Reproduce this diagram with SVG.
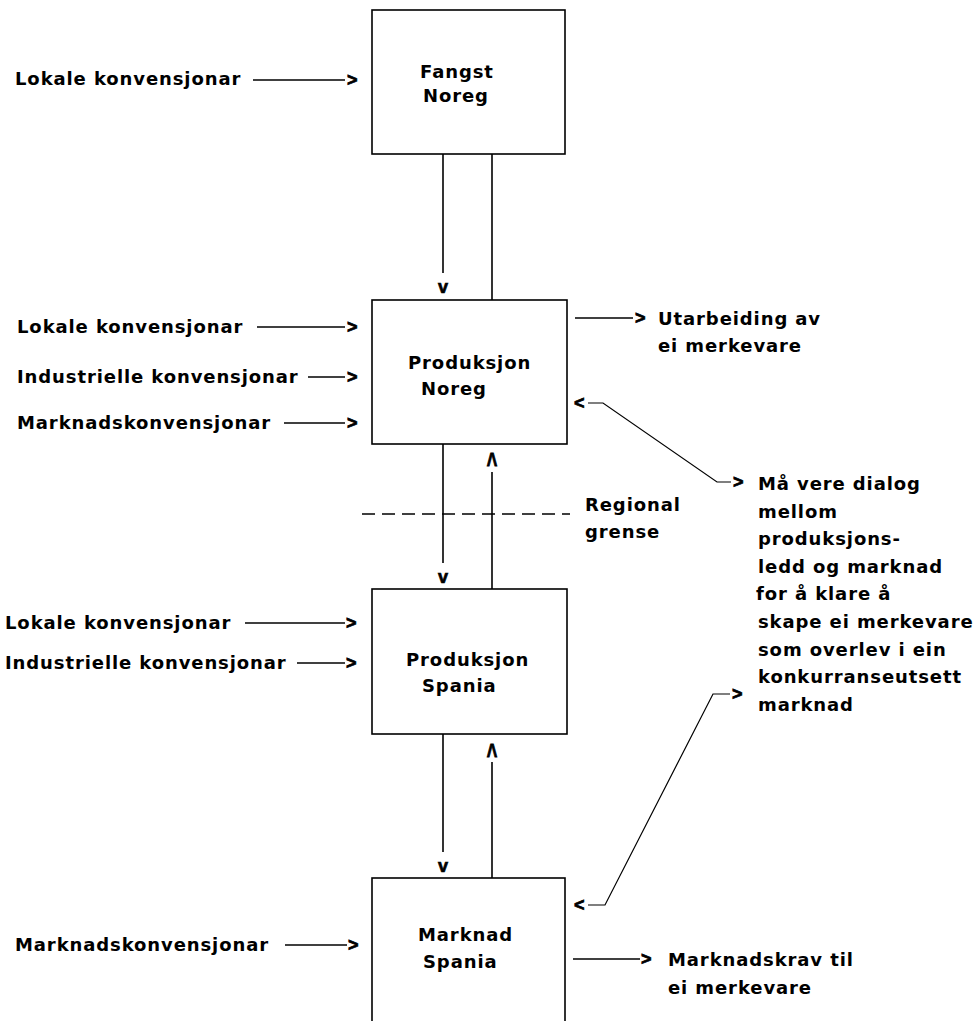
<svg xmlns="http://www.w3.org/2000/svg" width="980" height="1021" viewBox="0 0 980 1021">
<style>
text{font-family:"DejaVu Sans","Liberation Sans",sans-serif;font-weight:bold;font-size:18px;letter-spacing:0.9px;fill:#000}
text.ah{font-family:"Liberation Sans",Arial,sans-serif;letter-spacing:0;stroke:#000;stroke-width:0.7}
.box{fill:#fff;stroke:#000;stroke-width:1.6}
.ln{fill:none;stroke:#000;stroke-width:1.6}
.thin{fill:none;stroke:#000;stroke-width:1.2}
.dash{fill:none;stroke:#000;stroke-width:1.5;stroke-dasharray:13 7}
.m{text-anchor:middle}
</style>
<rect width="980" height="1021" fill="#fff"/>
<g id="connectors">
  <line class="ln" x1="443" y1="154" x2="443" y2="273"/>
  <line class="ln" x1="492" y1="154" x2="492" y2="300"/>
  <text class="ah m" x="443" y="293">v</text>
  <line class="ln" x1="443" y1="444" x2="443" y2="563"/>
  <text class="ah m" x="443" y="583">v</text>
  <line class="ln" x1="492" y1="472" x2="492" y2="589"/>
  <text class="ah m" transform="translate(492,473) scale(1,1.6)">^</text>
  <line class="ln" x1="443" y1="734" x2="443" y2="852"/>
  <text class="ah m" x="443" y="872">v</text>
  <line class="ln" x1="492" y1="762" x2="492" y2="878"/>
  <text class="ah m" transform="translate(492,764) scale(1,1.6)">^</text>
  <line class="dash" x1="362" y1="514" x2="570" y2="514"/>
  <line class="ln" x1="253" y1="80" x2="345" y2="80"/><text class="ah" x="347" y="86">&gt;</text>
  <line class="ln" x1="257" y1="327" x2="345" y2="327"/><text class="ah" x="347" y="333">&gt;</text>
  <line class="ln" x1="308" y1="377" x2="345" y2="377"/><text class="ah" x="347" y="383">&gt;</text>
  <line class="ln" x1="284" y1="423" x2="345" y2="423"/><text class="ah" x="347" y="429">&gt;</text>
  <line class="ln" x1="245" y1="623" x2="345" y2="623"/><text class="ah" x="346" y="629">&gt;</text>
  <line class="ln" x1="297" y1="663" x2="345" y2="663"/><text class="ah" x="346" y="669">&gt;</text>
  <line class="ln" x1="285" y1="945" x2="347" y2="945"/><text class="ah" x="348" y="951">&gt;</text>
  <line class="ln" x1="575" y1="318" x2="633" y2="318"/><text class="ah" x="635" y="324">&gt;</text>
  <line class="ln" x1="573" y1="959" x2="640" y2="959"/><text class="ah" x="641" y="965">&gt;</text>
  <text class="ah" x="574" y="409">&lt;</text>
  <polyline class="thin" points="588,403 603,403 717,482 731,482"/>
  <text class="ah" x="733" y="488">&gt;</text>
  <text class="ah" x="574" y="911">&lt;</text>
  <polyline class="thin" points="588,905 605,905 713,694 730,694"/>
  <text class="ah" x="732" y="700">&gt;</text>
</g>
<g id="fangst-noreg">
  <rect class="box" x="372" y="10" width="193" height="144"/>
  <text x="420" y="78">Fangst</text>
  <text x="423" y="102">Noreg</text>
</g>
<g id="produksjon-noreg">
  <rect class="box" x="372" y="300" width="195" height="144"/>
  <text x="408" y="369">Produksjon</text>
  <text x="421" y="395">Noreg</text>
</g>
<g id="produksjon-spania">
  <rect class="box" x="372" y="589" width="195" height="145"/>
  <text x="406" y="666">Produksjon</text>
  <text x="422" y="692">Spania</text>
</g>
<g id="marknad-spania">
  <rect class="box" x="372" y="878" width="193" height="160"/>
  <text x="418" y="941">Marknad</text>
  <text x="423" y="968">Spania</text>
</g>
<g id="inputs">
  <text x="15" y="85">Lokale konvensjonar</text>
  <text x="17" y="333">Lokale konvensjonar</text>
  <text x="17" y="383">Industrielle konvensjonar</text>
  <text x="17" y="429">Marknadskonvensjonar</text>
  <text x="5" y="629">Lokale konvensjonar</text>
  <text x="5" y="669">Industrielle konvensjonar</text>
  <text x="15" y="951">Marknadskonvensjonar</text>
</g>
<g id="outputs">
  <text x="658" y="325">Utarbeiding av</text>
  <text x="658" y="352">ei merkevare</text>
  <text x="668" y="966">Marknadskrav til</text>
  <text x="668" y="994">ei merkevare</text>
</g>
<g id="regional-grense">
  <text x="585" y="511">Regional</text>
  <text x="585" y="538">grense</text>
</g>
<g id="dialog">
  <text x="758" y="490">Må vere dialog</text>
  <text x="758" y="517.6">mellom</text>
  <text x="758" y="545.2">produksjons-</text>
  <text x="758" y="572.8">ledd og marknad</text>
  <text x="756" y="600.4">for å klare å</text>
  <text x="758" y="628">skape ei merkevare</text>
  <text x="758" y="655.6">som overlev i ein</text>
  <text x="758" y="683.2">konkurranseutsett</text>
  <text x="758" y="710.8">marknad</text>
</g>
</svg>
